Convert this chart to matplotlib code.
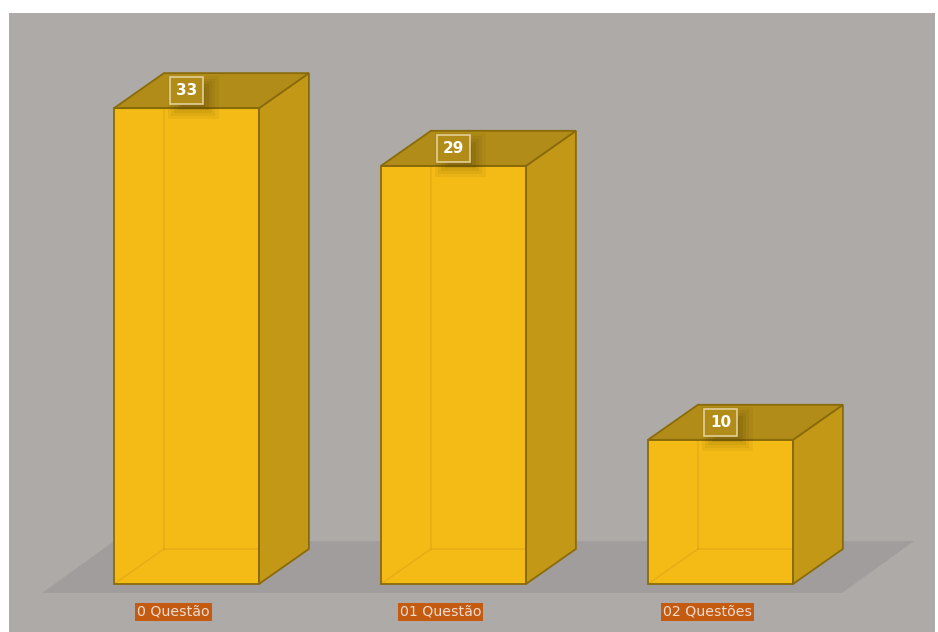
import matplotlib.pyplot as plt
from matplotlib.patches import Polygon, Rectangle
from matplotlib.lines import Line2D

categories = ["0 Questão", "01 Questão", "02 Questões"]
values = [33, 29, 10]

# pseudo-3D geometry (x in category units, y in value units)
bar_w = 0.543
dx, dy = 0.187, 2.43          # depth offset of the box
floor_dx, floor_dy = 0.27, 3.6

bg = "#aeaaa8"
floor_col = "#a19d9c"
front_col = "#f4bb17"
side_col = "#c39817"
top_col = "#b28c18"
edge_col = "#8a6b0a"

fig = plt.figure(figsize=(9.38, 6.32), dpi=100)
ax = fig.add_axes([9 / 938, 0, 926 / 938, 619 / 632])
ax.set_facecolor(bg)
ax.set_xlim(-0.6648, 2.8034)
ax.set_ylim(-3.329, 39.6)
ax.axis("off")
ax.add_patch(Rectangle((0, 0), 1, 1, transform=ax.transAxes, color=bg, zorder=0))

# floor
fy = -0.624
fx0, fx1 = -0.541, 2.455
ax.add_patch(Polygon([(fx0, fy), (fx1, fy), (fx1 + floor_dx, fy + floor_dy),
                      (fx0 + floor_dx, fy + floor_dy)],
                     closed=True, facecolor=floor_col, edgecolor="none", zorder=1))

for i, (cat, v) in enumerate(zip(categories, values)):
    x0 = i - bar_w / 2
    x1 = i + bar_w / 2
    z = 2 + i * 10
    front = [(x0, 0), (x1, 0), (x1, v), (x0, v)]
    side = [(x1, 0), (x1 + dx, dy), (x1 + dx, v + dy), (x1, v)]
    top = [(x0, v), (x1, v), (x1 + dx, v + dy), (x0 + dx, v + dy)]
    ax.add_patch(Polygon(front, closed=True, facecolor=front_col, edgecolor="none", zorder=z))
    # hidden back edges seen through the translucent box
    for xs, ys in [([x0 + dx, x0 + dx], [dy, v + dy]),
                   ([x0 + dx, x1 + dx], [dy, dy]),
                   ([x0, x0 + dx], [0, dy])]:
        ax.add_line(Line2D(xs, ys, color="#dca514", lw=1.2, alpha=0.55, zorder=z + 1))
    ax.add_patch(Polygon(side, closed=True, facecolor=side_col, edgecolor=edge_col,
                         lw=1.3, zorder=z + 2))
    ax.add_patch(Polygon(top, closed=True, facecolor=top_col, edgecolor=edge_col,
                         lw=1.3, zorder=z + 2))
    ax.add_patch(Polygon(front, closed=True, facecolor="none", edgecolor=edge_col,
                         lw=1.3, zorder=z + 3))

    # soft shadow under the value label
    for k, a in enumerate([0.05, 0.06, 0.07, 0.09, 0.1]):
        ww = 0.19 - k * 0.025
        hh = 3.0 - k * 0.4
        ax.add_patch(Rectangle((i + 0.025 - ww / 2, v + 0.75 - hh / 2), ww, hh,
                               facecolor="#3a2c00", edgecolor="none", alpha=a, zorder=z + 4))
    ax.text(i, v + 1.21, str(v), ha="center", va="center", color="white",
            fontsize=11, fontweight="bold", family="DejaVu Sans", zorder=z + 5,
            bbox=dict(boxstyle="square,pad=0.38", facecolor=top_col,
                      edgecolor="#e2d09a", lw=1.2))

    # category label
    ax.text(i - 0.048, -1.94, cat, ha="center", va="center", color="#ecdcd0",
            fontsize=10.2, family="DejaVu Sans", zorder=40,
            bbox=dict(boxstyle="square,pad=0.14", facecolor="#c55a11", edgecolor="none"))

fig.savefig("out.png", dpi=100, facecolor="white")
